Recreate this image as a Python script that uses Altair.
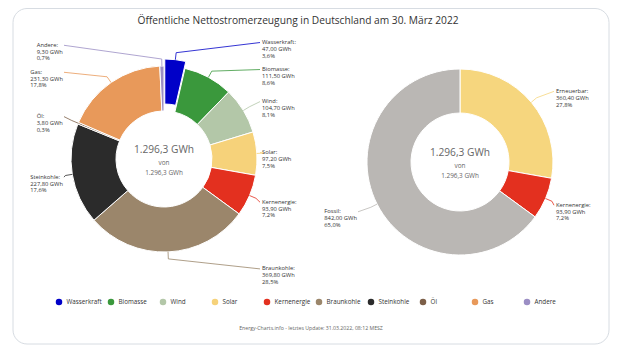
import math
import altair as alt
import pandas as pd

TITEL = "Öffentliche Nettostromerzeugung in Deutschland am 30. März 2022"
FUSSZEILE = "Energy-Charts.info - letztes Update: 31.03.2022, 08:12 MESZ"

quellen = ["Wasserkraft", "Biomasse", "Wind", "Solar", "Kernenergie",
           "Braunkohle", "Steinkohle", "Öl", "Gas", "Andere"]
quellen_gwh = [47.00, 111.50, 104.70, 97.20, 93.90, 369.80, 227.80, 3.80, 231.30, 9.30]

gruppen = ["Erneuerbar", "Kernenergie", "Fossil"]
gruppen_gwh = [360.40, 93.90, 842.00]

ausgerueckt = "Wasserkraft"

farb_domain = quellen + ["Erneuerbar", "Fossil"]
farb_range = ["#0000c8", "#3a983c", "#b3c7a8", "#f6d27a", "#e3301f",
              "#9b866b", "#2b2b2b", "#7c5f48", "#e8995a", "#9b8ec4",
              "#f6d67e", "#bab7b4"]

FONT = "Open Sans"
W, H = 604, 342
FS = 5.8
GAP = 27
SLICE_OFF = 7

L_CX, L_CY, L_RO, L_RI = 156, 151, 93, 48
R_CX, R_CY, R_RO, R_RI = 452, 154, 93, 49


def de(v, d):
    s = f"{v:,.{d}f}"
    return s.replace(",", "§").replace(".", ",").replace("§", ".")


def text_width(s, fs):
    w = 0.0
    for ch in s:
        if ch in "il.,:;' jtfr":
            w += 0.28
        elif ch in "WMm":
            w += 0.9
        elif ch.isupper():
            w += 0.65
        else:
            w += 0.56
    return w * fs


def distribute(items, gap):
    items = sorted(items, key=lambda d: d["ideal"])
    clusters = []
    for it in items:
        clusters.append({"items": [it], "sum": it["ideal"]})
        while len(clusters) > 1:
            a, b = clusters[-2], clusters[-1]
            na, nb = len(a["items"]), len(b["items"])
            a_top = a["sum"] / na - (na - 1) * gap / 2
            b_top = b["sum"] / nb - (nb - 1) * gap / 2
            if a_top + na * gap > b_top:
                clusters[-2:] = [{"items": a["items"] + b["items"], "sum": a["sum"] + b["sum"]}]
            else:
                break
    for c in clusters:
        n = len(c["items"])
        top = c["sum"] / n - (n - 1) * gap / 2
        for k, it in enumerate(c["items"]):
            it["y"] = top + k * gap


def donut_data(names, vals, cx, cy, r_out, label_r, dx_right, dx_left, tag, sliced=None):
    total = sum(vals)
    cum = 0.0
    rows = []
    for i, (n, v) in enumerate(zip(names, vals)):
        a0 = cum / total * 2 * math.pi
        cum += v
        a1 = cum / total * 2 * math.pi
        mid = (a0 + a1) / 2
        off = SLICE_OFF if n == sliced else 0
        rows.append(dict(quelle=n, gwh=v, nr=i, mid=mid,
                         side="R" if math.sin(mid) >= 0 else "L",
                         ideal=cy - label_r * math.cos(mid),
                         ox=off * math.sin(mid), oy=-off * math.cos(mid),
                         pct=v / total * 100))
    for side in "RL":
        distribute([r for r in rows if r["side"] == side], GAP)
    arcs = pd.DataFrame([{k: r[k] for k in ("quelle", "gwh", "nr")} for r in rows])
    labels, lines = [], []
    for r in rows:
        txt = [f"{r['quelle']}:", f"{de(r['gwh'], 2)} GWh", f"{de(r['pct'], 1)}%"]
        if r["side"] == "R":
            lx = cx + dx_right
            ax = lx - 2
        else:
            right_end = cx - dx_left
            lx = right_end - max(text_width(t, FS) for t in txt)
            ax = right_end + 2
        labels.append(dict(lx=lx, ly=r["y"] - 3.4, text="\n".join(txt)))
        m = r["mid"]
        pts = [(ax, r["y"]),
               (cx + r["ox"] + (r_out + 7) * math.sin(m), cy + r["oy"] - (r_out + 7) * math.cos(m)),
               (cx + r["ox"] + r_out * math.sin(m), cy + r["oy"] - r_out * math.cos(m))]
        for k, (px, py) in enumerate(pts):
            lines.append(dict(lid=tag + r["quelle"], quelle=r["quelle"], k=k, px=px, py=py))
    off = [(r["ox"], r["oy"]) for r in rows if r["quelle"] == sliced]
    return arcs, pd.DataFrame(labels), pd.DataFrame(lines), total, (off[0] if off else (0, 0))


l_arcs, l_labels, l_lines, l_total, l_off = donut_data(
    quellen, quellen_gwh, L_CX, L_CY, L_RO, 110, 98, 102, "L", ausgerueckt)
r_arcs, r_labels, r_lines, r_total, _ = donut_data(
    gruppen, gruppen_gwh, R_CX, R_CY, R_RO, 110, 96, 104, "R")

labels_df = pd.concat([l_labels, r_labels], ignore_index=True)
lines_df = pd.concat([l_lines, r_lines], ignore_index=True)

farbe = alt.Scale(domain=farb_domain, range=farb_range)
legende = alt.Legend(
    orient="none", legendX=47.5, legendY=290.5, direction="horizontal",
    columns=10, gridAlign="all", columnPadding=5, values=quellen,
    symbolType="circle", symbolSize=42, symbolStrokeWidth=0,
    labelFont=FONT, labelFontSize=6.3, labelColor="#333333", labelOffset=4,
    title=None, padding=0,
)

karte = alt.Chart(alt.Data(values=[{}])).mark_rect(
    cornerRadius=14, fill="white", stroke="#d7dce2", strokeWidth=1
).encode(x=alt.value(5), x2=alt.value(601), y=alt.value(0.5), y2=alt.value(336))


def arc_layer(df, cx, cy, ri, ro, show_legend, opacity):
    return alt.Chart(df).mark_arc(
        innerRadius=ri, outerRadius=ro, stroke="white", strokeWidth=1
    ).encode(
        theta=alt.Theta("gwh:Q", stack=True),
        order=alt.Order("nr:Q"),
        color=alt.Color("quelle:N", scale=farbe, legend=legende if show_legend else None),
        opacity=opacity,
        x=alt.value(cx), y=alt.value(cy),
    )


ist_aus = alt.datum.quelle == ausgerueckt
links = arc_layer(l_arcs, L_CX, L_CY, L_RI, L_RO, True,
                  alt.when(ist_aus).then(alt.value(0)).otherwise(alt.value(1)))
links_aus = arc_layer(l_arcs, L_CX + l_off[0], L_CY + l_off[1], L_RI, L_RO, False,
                      alt.when(ist_aus).then(alt.value(1)).otherwise(alt.value(0)))
rechts = arc_layer(r_arcs, R_CX, R_CY, R_RI, R_RO, False, alt.value(1))

verbinder = alt.Chart(lines_df).mark_line(strokeWidth=0.8).encode(
    x=alt.X("px:Q", scale=None, axis=None),
    y=alt.Y("py:Q", scale=None, axis=None),
    detail="lid:N",
    order="k:Q",
    color=alt.Color("quelle:N", scale=farbe, legend=None),
)

beschriftung = alt.Chart(labels_df).mark_text(
    align="left", baseline="top", lineBreak="\n", fontSize=FS, lineHeight=6.8,
    font=FONT, color="#333333"
).encode(
    x=alt.X("lx:Q", scale=None, axis=None),
    y=alt.Y("ly:Q", scale=None, axis=None),
    text="text:N",
)

mitte_rows = []
for cx, cy, tot in [(L_CX, L_CY, l_total), (R_CX, R_CY, r_total)]:
    s = f"{de(tot, 1)} GWh"
    mitte_rows += [dict(x=cx, y=cy - 9, t=s, fs=10.2),
                   dict(x=cx, y=cy + 4, t="von", fs=6.4),
                   dict(x=cx, y=cy + 13.5, t=s, fs=6.4)]
mitte = alt.Chart(pd.DataFrame(mitte_rows)).mark_text(
    align="center", baseline="middle", font=FONT, color="#666666"
).encode(
    x=alt.X("x:Q", scale=None, axis=None),
    y=alt.Y("y:Q", scale=None, axis=None),
    text="t:N",
    size=alt.Size("fs:Q", scale=None, legend=None),
)

titel = alt.Chart(alt.Data(values=[{}])).mark_text(
    align="center", baseline="middle", font=FONT, fontSize=10.2, color="#333333"
).encode(x=alt.value(290), y=alt.value(13), text=alt.value(TITEL))

fuss = alt.Chart(alt.Data(values=[{}])).mark_text(
    align="center", baseline="middle", font=FONT, fontSize=5.2, color="#666666"
).encode(x=alt.value(303), y=alt.value(320), text=alt.value(FUSSZEILE))

chart = alt.layer(
    karte, links, links_aus, rechts, verbinder, beschriftung, mitte, titel, fuss
).resolve_scale(theta="independent").properties(
    width=W, height=H, padding=0, autosize="none", background="white"
).configure_view(stroke=None)

chart.save("out.html", embed_options={"renderer": "svg", "actions": False})
